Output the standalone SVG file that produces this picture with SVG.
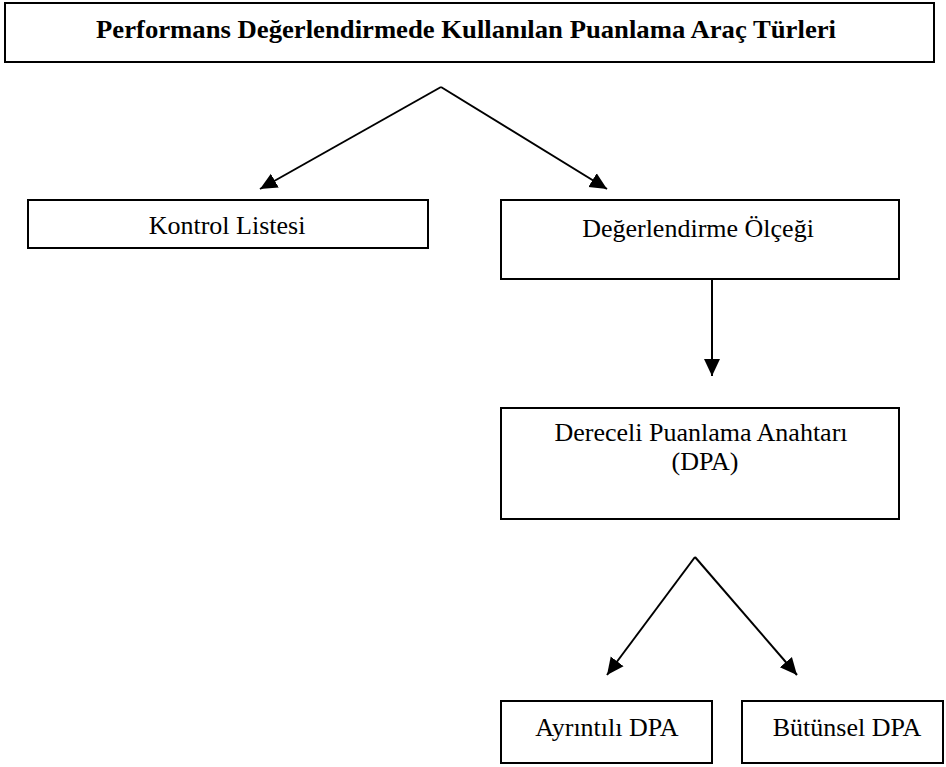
<svg xmlns="http://www.w3.org/2000/svg" width="946" height="767" viewBox="0 0 946 767">
<style>
  .box { fill: #fff; stroke: #000; stroke-width: 2; }
  .t { font-family: "Liberation Serif", "Times New Roman", serif; font-size: 26px; fill: #000; text-anchor: middle; }
  .b { font-weight: bold; }
  .c { stroke: #000; stroke-width: 2; fill: none; }
</style>
<defs>
  <marker id="ah" markerUnits="userSpaceOnUse" markerWidth="18" markerHeight="18" viewBox="0 0 18 18" refX="17" refY="9" orient="auto">
    <path d="M0,1 L17,9 L0,17 Z" fill="#000"/>
  </marker>
</defs>
<rect width="946" height="767" fill="#fff"/>
<g id="title">
  <rect class="box" x="5" y="3" width="929" height="59"/>
  <text class="t b" x="466" y="38" textLength="740" lengthAdjust="spacingAndGlyphs">Performans Değerlendirmede Kullanılan Puanlama Araç Türleri</text>
</g>
<g id="kontrol">
  <rect class="box" x="28" y="200" width="400" height="48"/>
  <text class="t" x="227" y="234">Kontrol Listesi</text>
</g>
<g id="degerlendirme">
  <rect class="box" x="501" y="200" width="398" height="79"/>
  <text class="t" x="698" y="237">Değerlendirme Ölçeği</text>
</g>
<g id="dpa">
  <rect class="box" x="501" y="408" width="398" height="111"/>
  <text class="t" x="701" y="441">Dereceli Puanlama Anahtarı</text>
  <text class="t" x="705" y="470">(DPA)</text>
</g>
<g id="ayrintili">
  <rect class="box" x="501" y="701" width="211" height="62"/>
  <text class="t" x="607" y="736">Ayrıntılı DPA</text>
</g>
<g id="butunsel">
  <rect class="box" x="742" y="701" width="201" height="62"/>
  <text class="t" x="847" y="736">Bütünsel DPA</text>
</g>
<g id="connectors">
  <path class="c" d="M441,87 L260,189" marker-end="url(#ah)"/>
  <path class="c" d="M441,87 L607,189" marker-end="url(#ah)"/>
  <path class="c" d="M712,279 L712,376" marker-end="url(#ah)"/>
  <path class="c" d="M695,557 L607,675" marker-end="url(#ah)"/>
  <path class="c" d="M695,557 L797,675" marker-end="url(#ah)"/>
</g>
</svg>
